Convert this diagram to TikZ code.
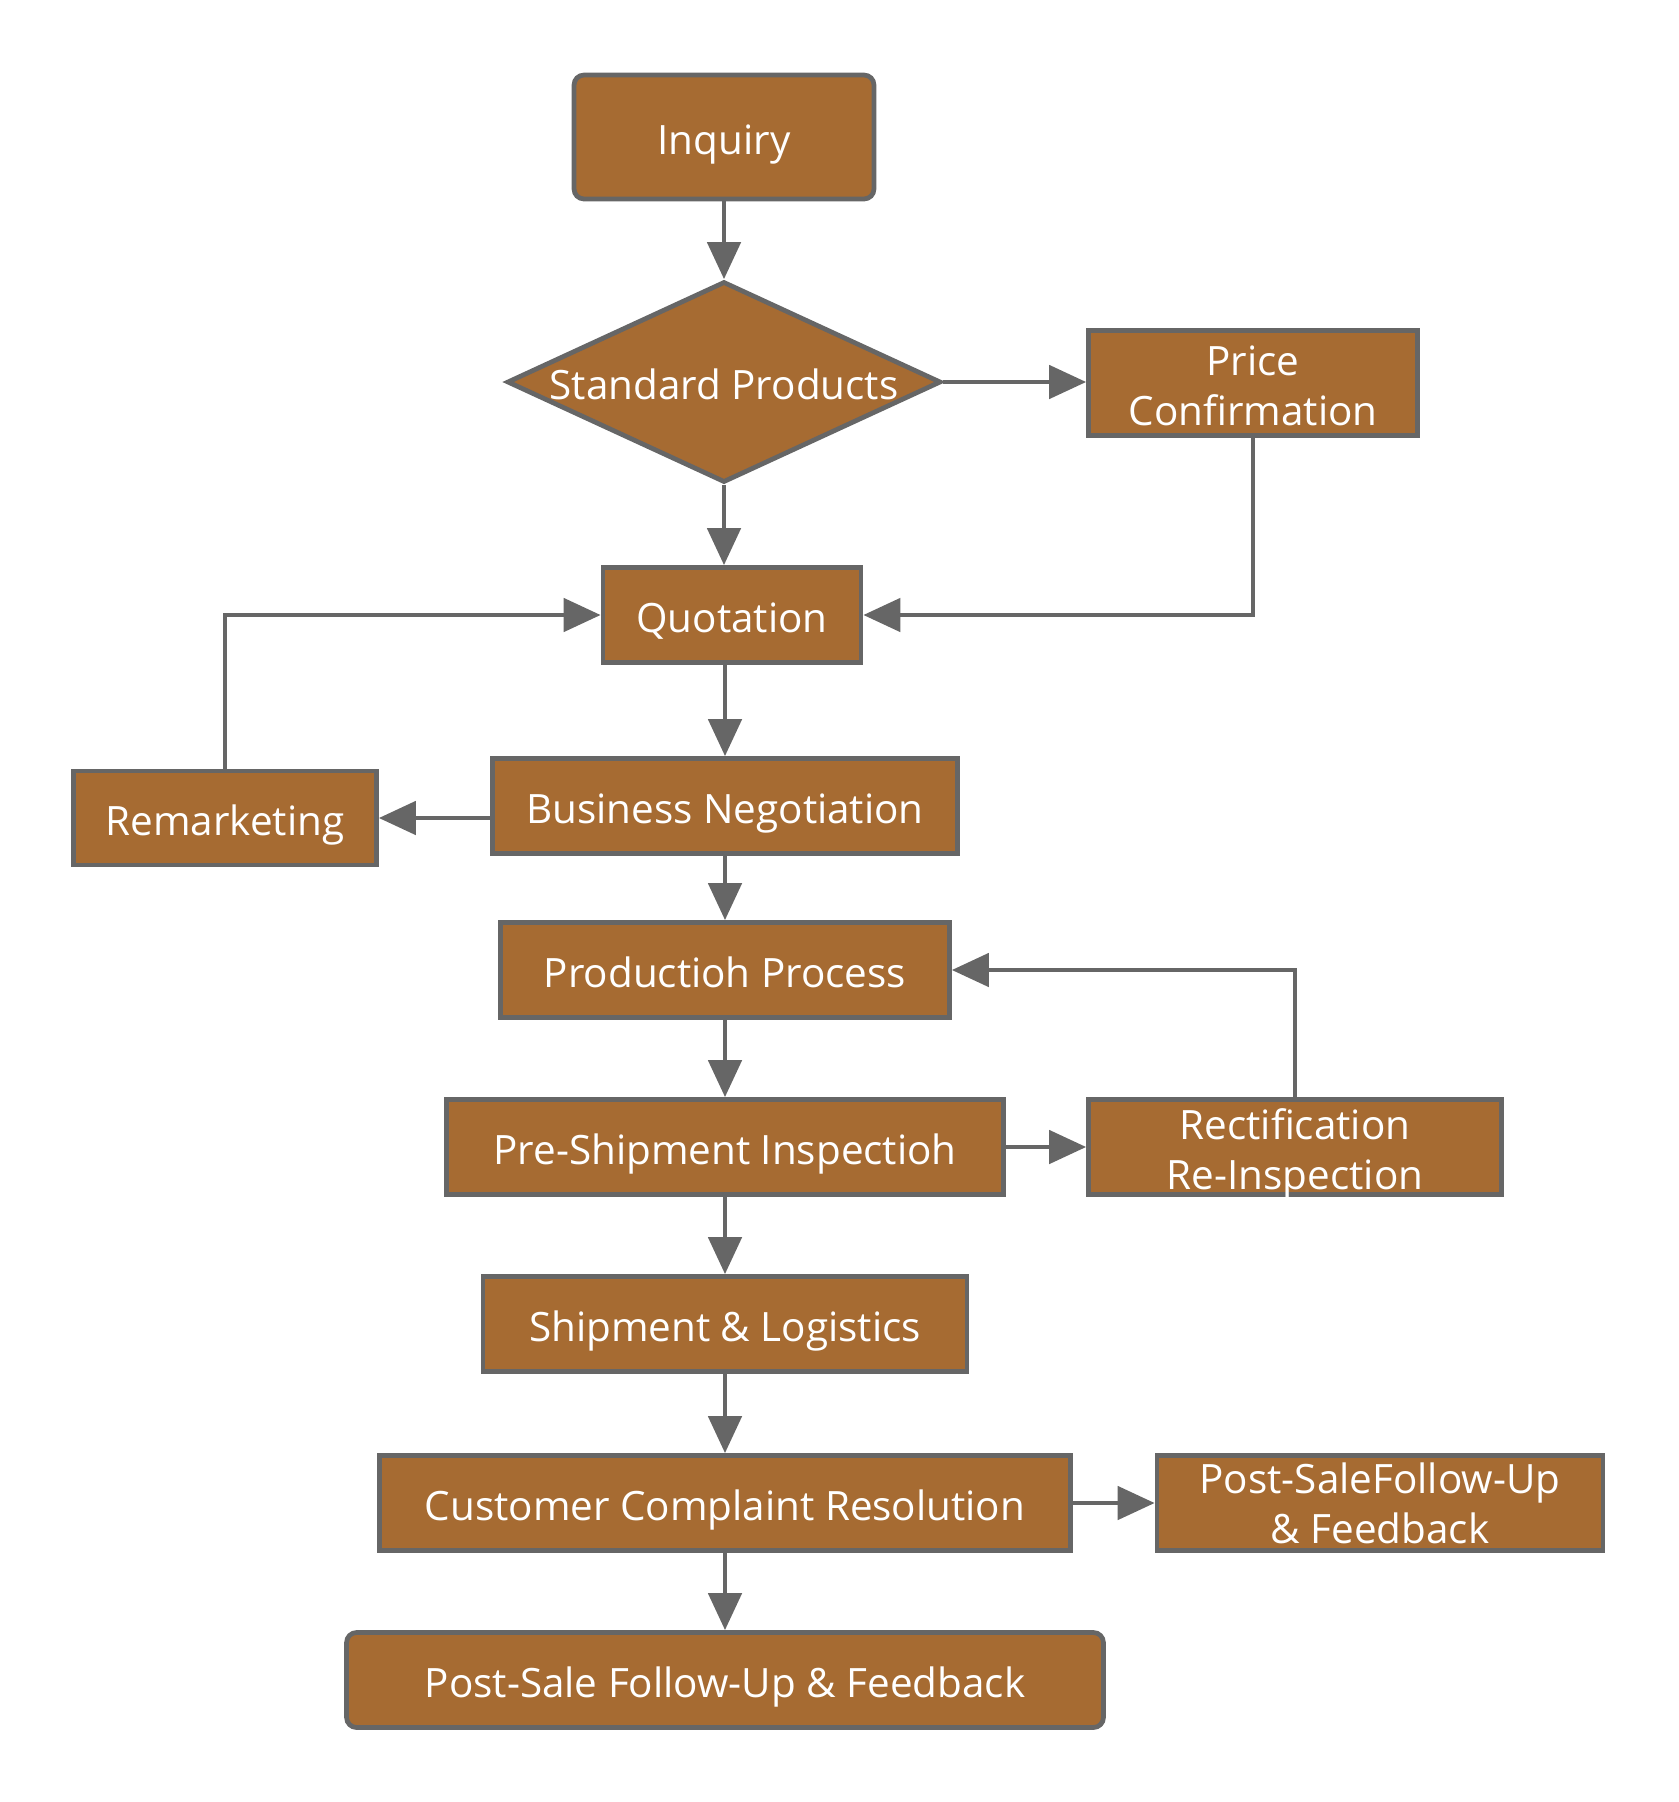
\documentclass[tikz,border=0pt]{standalone}
\usepackage{fontspec}
\setmainfont{Open Sans}
\usetikzlibrary{arrows.meta,shapes.geometric}
\definecolor{ochre}{HTML}{A66B32}
\definecolor{edgegray}{HTML}{666666}
\newcommand{\rowstrut}{\rule[-6pt]{0pt}{31.8pt}}

\begin{document}
\begin{tikzpicture}[x=0.02cm, y=-0.02cm,
  every node/.style={font=\fontsize{23}{28.5}\selectfont, text=white},
  stage/.style={rectangle, draw=edgegray, fill=ochre, line width=2.7pt,
    minimum height=1.9cm, inner sep=0pt, align=center},
  onerow/.style={execute at begin node=\rowstrut},
  tworow/.style={text height=48pt, text depth=0pt},
  terminal/.style={stage, onerow, rounded corners=0.2cm},
  decision/.style={diamond, draw=edgegray, fill=ochre, line width=2.7pt,
    text height=0.7cm, text depth=0pt,
    aspect=2.16, inner sep=0pt, minimum width=8.68cm, minimum height=4.02cm},
  arr/.style={draw=edgegray, line width=2.7pt, -{Triangle[length=0.74cm, width=0.66cm]}},
]
\useasboundingbox (0,0) rectangle (1678,1802);

% --- main column ---
\node[terminal, minimum width=6cm, minimum height=2.48cm] (inquiry) at (724,137) {Inquiry};
\node[decision] (standard) at (724,382) {Standard Products};
\node[stage, onerow, minimum width=5.16cm] (quotation) at (732,615) {Quotation};
\node[stage, onerow, minimum width=9.3cm] (negotiation) at (725,806) {Business Negotiation};
\node[stage, onerow, minimum width=8.98cm] (production) at (725,970) {Productioh Process};
\node[stage, onerow, minimum width=11.14cm] (preship) at (725,1147) {Pre-Shipment Inspectioh};
\node[stage, onerow, minimum width=9.68cm] (shipment) at (725,1324) {Shipment \& Logistics};
\node[stage, onerow, minimum width=13.82cm] (complaint) at (725,1503) {Customer Complaint Resolution};
\node[terminal, minimum width=15.14cm] (feedback) at (725,1680) {Post-Sale Follow-Up \& Feedback};

% --- side boxes ---
\node[stage, tworow, minimum width=6.58cm, minimum height=2.1cm] (price) at (1253,383) {Price\\Confirmation};
\node[stage, onerow, minimum width=6.06cm, minimum height=1.88cm] (remarketing) at (225,818) {Remarketing};
\node[stage, tworow, minimum width=8.26cm] (rectif) at (1295,1147) {Rectification\\Re-Inspection};
\node[stage, minimum width=8.92cm] (followup) at (1380,1503) {Post-SaleFollow-Up\\\& Feedback};

% --- connectors ---
\draw[arr] (inquiry) -- (standard);
\draw[arr] (standard.east) -- (standard.east -| price.west);
\draw[arr] (standard.south) -- (standard.south |- quotation.north);
\draw[arr] (price.south) |- (quotation.east);
\draw[arr] (quotation.south -| negotiation.north) -- (negotiation.north);
\draw[arr] (remarketing.east -| negotiation.west) -- (remarketing.east);
\draw[arr] (remarketing.north) |- (quotation.west);
\draw[arr] (negotiation) -- (production);
\draw[arr] (production) -- (preship);
\draw[arr] (preship.east) -- (rectif.west);
\draw[arr] (rectif.north) |- (production.east);
\draw[arr] (preship) -- (shipment);
\draw[arr] (shipment) -- (complaint);
\draw[arr] (complaint.east) -- (followup.west);
\draw[arr] (complaint) -- (feedback);

\end{tikzpicture}
\end{document}
